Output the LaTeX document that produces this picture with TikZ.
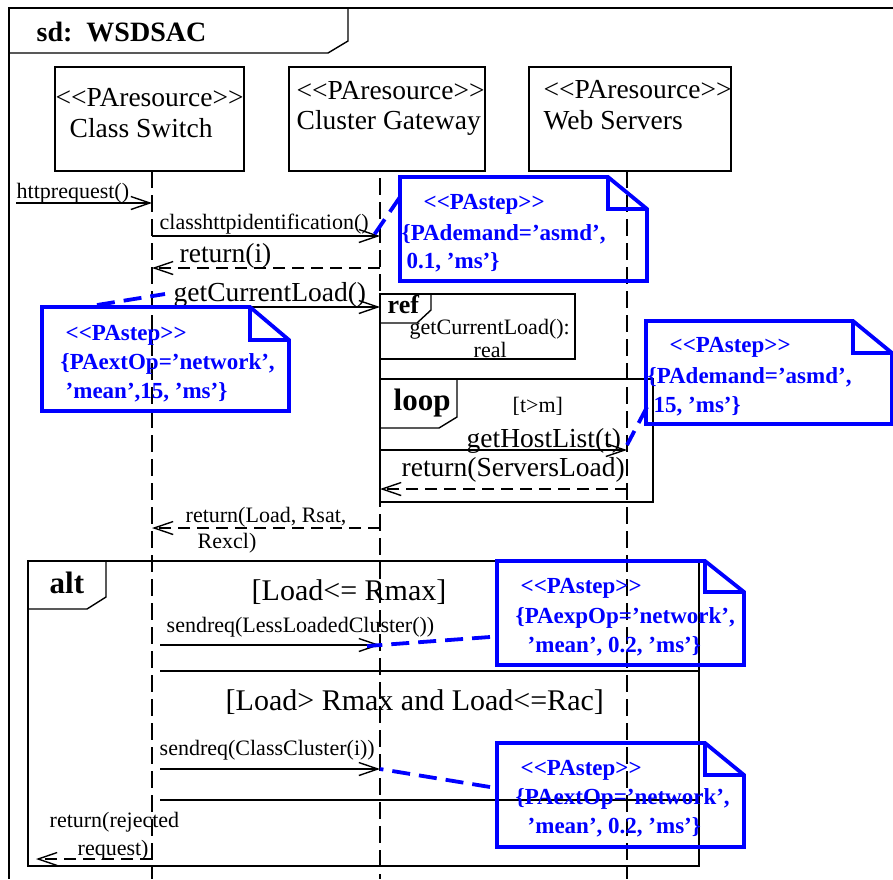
\documentclass[tikz,border=0pt]{standalone}
\usepackage{fontspec}
\setmainfont{Liberation Serif}
\usetikzlibrary{arrows.meta}

\begin{document}
\begin{tikzpicture}[x=1pt,y=-1pt,line width=1.4pt,
  >={Straight Barb[length=19pt,width=13pt]},
  bigtxt/.style={anchor=base west,inner sep=0pt,font=\fontsize{27.5}{30}\selectfont},
  smalltxt/.style={anchor=base west,inner sep=0pt,font=\fontsize{22}{27}\selectfont},
  guardtxt/.style={anchor=base west,inner sep=0pt,font=\fontsize{30}{32}\selectfont},
  kwtxt/.style={anchor=base west,inner sep=0pt,font=\fontsize{31}{33}\selectfont\bfseries},
  notetxt/.style={anchor=base west,inner sep=0pt,text=blue,font=\fontsize{23}{28}\selectfont\bfseries},
  headbox/.style={draw,inner sep=0pt,minimum height=104pt},
  lifeline/.style={dash pattern=on 17pt off 7pt},
  msg/.style={->},
  reply/.style={->,dash pattern=on 12pt off 7pt},
  notepen/.style={draw=blue,line width=3.8pt,line join=miter},
  notelink/.style={blue,line width=3.8pt,dash pattern=on 18pt off 9pt}]
  \useasboundingbox (0,0) rectangle (893,879);

  % frame and title
  \draw (893,8) -- (9,8) -- (9,879);
  \draw (9,53) -- (328,53) -- (348,41) -- (348,8);
  \node[anchor=base west,inner sep=0pt,font=\fontsize{28}{30}\selectfont\bfseries] (title) at (36,41) {sd:\ \ WSDSAC};

  % lifeline heads
  \node[headbox,minimum width=189pt] (csbox) at (149.5,119) {};
  \node[headbox,minimum width=196pt] (cgbox) at (387,119) {};
  \node[headbox,minimum width=202pt] (wsbox) at (630,119) {};
  \node[bigtxt] (csst) at (55,106) {<{}<PAresource>{}>};
  \node[bigtxt] (csname) at (69,137) {Class Switch};
  \node[bigtxt] (cgst) at (296,99) {<{}<PAresource>{}>};
  \node[bigtxt] (cgname) at (296,129) {Cluster Gateway};
  \node[bigtxt] (wsst) at (543,98) {<{}<PAresource>{}>};
  \node[bigtxt] (wsname) at (543,129) {Web Servers};

  % lifelines
  \coordinate (cs) at (152,171);
  \coordinate (cg) at (380,178);
  \coordinate (ws) at (627,171);
  \draw[lifeline] (cs) -- (152,879);
  \draw[lifeline] (cg) -- (380,879);
  \draw[lifeline] (ws) -- (627,879);
  \draw (380,294) -- (380,505);

  % ref fragment
  \node[draw,inner sep=0pt,minimum width=195pt,minimum height=65pt] (refbox) at (477.5,326.5) {};
  \draw (431,294) -- (431,310) -- (417,323) -- (380,323);
  \node[anchor=base west,inner sep=0pt,font=\fontsize{26}{28}\selectfont\bfseries] (reftag) at (387,313) {ref};
  \node[smalltxt] (refl1) at (409,334) {getCurrentLoad():};
  \node[smalltxt] (refl2) at (473,357) {real};

  % loop fragment
  \node[draw,inner sep=0pt,minimum width=273pt,minimum height=123pt] (loopbox) at (516.5,440.5) {};
  \draw (457,379) -- (457,417) -- (439,428) -- (380,428);
  \node[kwtxt] (looptag) at (393,410) {loop};
  \node[smalltxt] (loopg) at (512,412) {[t>m]};

  % alt fragment
  \node[draw,inner sep=0pt,minimum width=671pt,minimum height=305pt] (altbox) at (363.5,713.5) {};
  \draw (106,561) -- (106,597) -- (87,609) -- (28,609);
  \node[kwtxt] (alttag) at (49,593) {alt};
  \node[guardtxt] (altg1) at (251,600) {[Load<= Rmax]};
  \node[guardtxt] (altg2) at (225,710) {[Load> Rmax and Load<=Rac]};
  \coordinate (sep1) at (160,671);
  \coordinate (sep2) at (160,800);
  \draw (sep1) -- (sep1 -| altbox.east);
  \draw (sep2) -- (sep2 -| altbox.east);

  % messages
  \coordinate (m1) at (16,203);
  \draw[msg] (m1) -- (m1 -| cs);
  \node[smalltxt] (m1l) at (16,198) {httprequest()};
  \coordinate (m2) at (152,236);
  \draw[msg] (m2) -- (m2 -| cg);
  \node[smalltxt] (m2l) at (159,229) {classhttpidentification()};
  \coordinate (m3) at (380,268);
  \draw[reply] (m3) -- (m3 -| cs);
  \node[bigtxt] (m3l) at (179,262) {return(i)};
  \coordinate (m4) at (152,307);
  \draw[msg] (m4) -- (m4 -| cg);
  \node[bigtxt] (m4l) at (173,301) {getCurrentLoad()};
  \coordinate (m5) at (380,450);
  \draw[msg] (m5) -- (m5 -| ws);
  \node[bigtxt] (m5l) at (466,447) {getHostList(t)};
  \coordinate (m6) at (627,489);
  \draw[reply] (m6) -- (m6 -| cg);
  \node[bigtxt] (m6l) at (401,476) {return(ServersLoad)};
  \coordinate (m7) at (380,528);
  \draw[reply] (m7) -- (m7 -| cs);
  \node[smalltxt] (m7l) at (185,522) {return(Load, Rsat,};
  \node[smalltxt] (m7m) at (197,548) {Rexcl)};
  \coordinate (m8) at (160,645);
  \draw[msg] (m8) -- (m8 -| cg);
  \node[smalltxt] (m8l) at (166,632) {sendreq(LessLoadedCluster())};
  \coordinate (m9) at (160,769);
  \draw[msg] (m9) -- (m9 -| cg);
  \node[smalltxt] (m9l) at (159,755) {sendreq(ClassCluster(i))};
  \coordinate (m10) at (152,859);
  \coordinate (m10e) at (36,859);
  \draw[reply] (m10) -- (m10e);
  \node[smalltxt] (m10l) at (49,827) {return(rejected};
  \node[smalltxt] (m10m) at (77,855) {request)};

  % PAstep notes
  \draw[notepen] (400,177) -- (608,177) -- (647,209) -- (647,281) -- (400,281) -- cycle;
  \draw[notepen] (608,177) -- (608,209) -- (647,209);
  \node[notetxt] (nA1) at (423,209) {<{}<PAstep>{}>};
  \node[notetxt] (nA2) at (401,240) {\{PAdemand='asmd',};
  \node[notetxt] (nA3) at (406,268) {0.1, 'ms'\}};
  \coordinate (nA) at (400,197);
  \draw[notelink] (nA) -- (374,235);

  \draw[notepen] (42,307) -- (250,307) -- (289,340) -- (289,411) -- (42,411) -- cycle;
  \draw[notepen] (250,307) -- (250,340) -- (289,340);
  \node[notetxt] (nB1) at (65,340) {<{}<PAstep>{}>};
  \node[notetxt] (nB2) at (60,369) {\{PAextOp='network',};
  \node[notetxt] (nB3) at (65,398) {'mean',15, 'ms'\}};
  \coordinate (nB) at (97,305);
  \draw[notelink] (nB) -- (165,294);

  \draw[notepen] (646,321) -- (853,321) -- (892,353) -- (892,424) -- (646,424) -- cycle;
  \draw[notepen] (853,321) -- (853,353) -- (892,353);
  \node[notetxt] (nC1) at (669,352) {<{}<PAstep>{}>};
  \node[notetxt] (nC2) at (647,383) {\{PAdemand='asmd',};
  \node[notetxt] (nC3) at (653,412) {15, 'ms'\}};
  \coordinate (nC) at (647,407);
  \draw[notelink] (nC) -- (627,445);

  \draw[notepen] (497,561) -- (705,561) -- (744,592) -- (744,665) -- (497,665) -- cycle;
  \draw[notepen] (705,561) -- (705,592) -- (744,592);
  \node[notetxt] (nD1) at (520,593) {<{}<PAstep>{}>};
  \node[notetxt] (nD2) at (515,623) {\{PAexpOp='network',};
  \node[notetxt] (nD3) at (527,652) {'mean', 0.2, 'ms'\}};
  \coordinate (nD) at (490,637);
  \draw[notelink] (nD) -- (367,646);

  \draw[notepen] (497,743) -- (705,743) -- (744,775) -- (744,847) -- (497,847) -- cycle;
  \draw[notepen] (705,743) -- (705,775) -- (744,775);
  \node[notetxt] (nE1) at (520,775) {<{}<PAstep>{}>};
  \node[notetxt] (nE2) at (515,804) {\{PAextOp='network',};
  \node[notetxt] (nE3) at (527,833) {'mean', 0.2, 'ms'\}};
  \coordinate (nE) at (490,787);
  \draw[notelink] (nE) -- (380,769);
\end{tikzpicture}
\end{document}
